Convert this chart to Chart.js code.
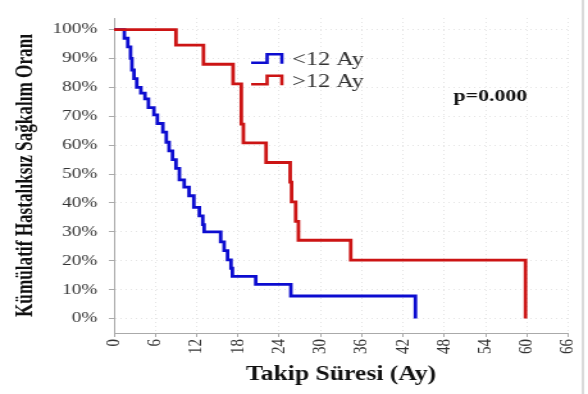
<!DOCTYPE html>
<html>
<head>
<meta charset="utf-8">
<script src="https://cdn.jsdelivr.net/npm/chart.js@4.4.1/dist/chart.umd.min.js"></script>
<style>
  html, body { margin: 0; padding: 0; background: #fff; }
</style>
</head>
<body>
<!-- drawn narrow and stretched wide, like the original export -->
<canvas id="km" width="459" height="394" style="width:588px;height:394px;display:block"></canvas>
<script>
// Kaplan-Meier steps: month of each drop, survival (%) after it
var shortMonths = [0, 1.5, 2.0, 2.4, 2.6, 2.9, 3.3, 3.9, 4.5, 5.0, 5.8, 6.3, 7.1, 7.6, 8.0, 8.5, 9.0, 9.5, 10.2, 10.9, 11.6, 12.4, 12.9, 13.1, 15.5, 16.0, 16.5, 17.0, 17.2, 20.6, 25.7, 43.8];
var shortSurv   = [100, 97, 94, 90, 86, 83, 80, 78, 76, 73, 70.5, 67.5, 64.5, 61, 58, 55, 52, 48, 45.5, 42.5, 38.5, 35.5, 32.5, 30, 26.5, 23.5, 20.3, 17.4, 14.6, 11.8, 7.8, 0];
var longMonths  = [0, 9.0, 13.0, 17.3, 18.5, 18.8, 22.1, 25.6, 25.8, 26.4, 26.8, 34.4, 59.8];
var longSurv    = [100, 94.6, 88, 81.2, 67.3, 60.8, 54, 47.2, 40.4, 33.6, 27.1, 20.2, 0];

var groupLabels = ['<12 Ay', '>12 Ay'];
var groupColors = ['#0c0cd0', '#cc1414'];
var xTicks = [0, 6, 12, 18, 24, 30, 36, 42, 48, 54, 60, 66];
var yTicks = [0, 10, 20, 30, 40, 50, 60, 70, 80, 90, 100];
var xTitle = 'Takip Süresi (Ay)';
var yTitle = 'Kümülatif Hastalıksız Sağkalım Oranı';
var pText = 'p=0.000';

Chart.defaults.font.family = '"Liberation Serif", "Times New Roman", serif';

function toPoints(xs, ys) {
    return xs.map(function (x, i) { return { x: x, y: ys[i] }; });
}

// step symbol legend, axis titles, p value, frame line
var extras = {
    id: 'extras',
    afterDraw: function (chart) {
        var ctx = chart.ctx;
        var area = chart.chartArea;
        ctx.save();

        ctx.strokeStyle = '#b4b4b4';
        ctx.lineWidth = 1;
        ctx.beginPath();
        ctx.moveTo(455, 0);
        ctx.lineTo(455, chart.height);
        ctx.stroke();

        // legend
        chart.data.datasets.forEach(function (ds, i) {
            var low = 62.7 + i * 21.5, high = low - 8.5;
            var x0 = 196, xm = 208.5, x1 = 220;
            ctx.strokeStyle = ds.borderColor;
            ctx.lineWidth = 2.6;
            ctx.beginPath();
            ctx.moveTo(x0, low);
            ctx.lineTo(xm, low);
            ctx.lineTo(xm, high);
            ctx.lineTo(x1, high);
            ctx.lineTo(x1, low + 1);
            ctx.stroke();
            ctx.fillStyle = '#333';
            ctx.font = '19px "Liberation Serif"';
            ctx.textAlign = 'left';
            ctx.textBaseline = 'middle';
            ctx.fillText(ds.label, 228, low - 2.5);
        });

        ctx.fillStyle = '#111';
        ctx.font = 'bold 17px "Liberation Serif"';
        ctx.textAlign = 'left';
        ctx.textBaseline = 'middle';
        ctx.fillText(pText, 354, 97);

        // axis titles
        ctx.textAlign = 'center';
        ctx.font = 'bold 20px "Liberation Serif"';
        ctx.fillText(xTitle, (area.left + area.right) / 2, 375);

        ctx.translate(20, (area.top + area.bottom) / 2);
        ctx.rotate(-Math.PI / 2);
        ctx.font = 'bold 19px "Liberation Serif"';
        var w = ctx.measureText(yTitle).width;
        ctx.scale(283 / w, 1);
        ctx.fillText(yTitle, 0, 0);
        ctx.restore();
    }
};

new Chart(document.getElementById('km'), {
    type: 'line',
    data: {
        datasets: [{
            label: groupLabels[0],
            data: toPoints(shortMonths, shortSurv),
            borderColor: groupColors[0],
            stepped: 'before',
            order: 1
        }, {
            label: groupLabels[1],
            data: toPoints(longMonths, longSurv),
            borderColor: groupColors[1],
            stepped: 'before',
            order: 0
        }]
    },
    options: {
        responsive: false,
        animation: false,
        events: [],
        layout: { padding: { top: 12, right: 15.5, left: 0, bottom: 0 } },
        elements: {
            line: { borderWidth: 2.8, fill: false, tension: 0 },
            point: { radius: 0 }
        },
        plugins: {
            legend: { display: false },
            tooltip: { enabled: false }
        },
        scales: {
            x: {
                type: 'linear',
                min: 0,
                max: 66,
                afterBuildTicks: function (scale) {
                    scale.ticks = xTicks.map(function (v) { return { value: v }; });
                },
                afterFit: function (scale) {
                    scale.height = 61;
                    scale.paddingLeft = 0;
                    scale.paddingRight = 0;
                },
                ticks: {
                    autoSkip: false,
                    minRotation: 90,
                    maxRotation: 90,
                    padding: 2,
                    color: '#333',
                    font: { size: 15 }
                },
                grid: { color: '#e4e4e4', tickColor: '#aaa', tickLength: 4 },
                border: { color: '#aaa', width: 1, dash: [1, 3] }
            },
            y: {
                min: -5,
                max: 104,
                afterBuildTicks: function (scale) {
                    scale.ticks = yTicks.map(function (v) { return { value: v }; });
                },
                afterFit: function (scale) { scale.width = 89; },
                ticks: {
                    padding: 9,
                    color: '#333',
                    font: { size: 15 },
                    callback: function (v) { return v + '%'; }
                },
                grid: { color: '#e4e4e4', tickColor: '#aaa', tickLength: 4 },
                border: { color: '#aaa', width: 1, dash: [1, 3] }
            }
        }
    },
    plugins: [extras]
});
</script>
</body>
</html>
